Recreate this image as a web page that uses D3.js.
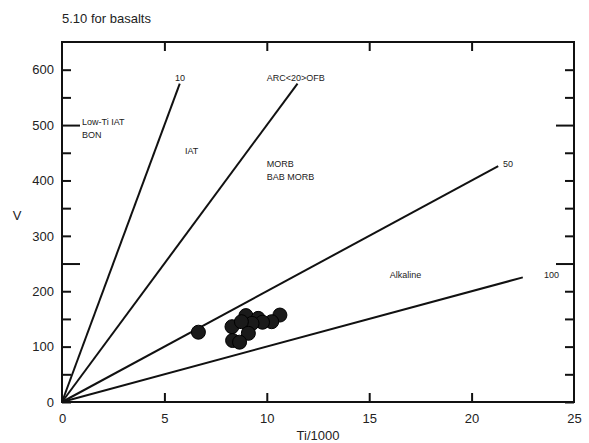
<!DOCTYPE html>
<html>
<head>
<meta charset="utf-8">
<script src="https://cdn.jsdelivr.net/npm/d3@7"></script>
<style>
    body { margin: 0; background: #fff; }
    text { font-family: "Liberation Sans", Arial, sans-serif; fill: #222; }
</style>
</head>
<body>
<svg id="chart" width="589" height="443"></svg>
<script>
/*global d3*/
/*jslint vars: true, indent: 4 */

//sample points
var tiValues = [6.66, 8.30, 8.98, 9.58, 10.64, 10.24, 9.79, 9.28, 8.76, 9.10, 8.33, 8.67],
    vValues = [126, 136, 156, 151, 157, 145, 144, 142, 145, 124, 111, 108];

//Ti/V ratio lines from the origin (V = 1000 * Ti/1000 / ratio)
var ratios = [10, 20, 50, 100],
    ratioEndTi = [5.75, 11.5, 21.3, 22.5];

//labels, anchored in data units
var labelTexts = ["10", "ARC<20>OFB", "50", "100", "Low-Ti IAT", "BON", "IAT", "MORB", "BAB MORB", "Alkaline"],
    labelTi = [5.52, 10.0, 21.53, 23.53, 0.98, 0.98, 6.0, 10.0, 10.0, 16.0],
    labelV = [580, 580, 425, 224, 501, 477, 448, 425, 400, 224];

var xTicks = [0, 5, 10, 15, 20, 25],
    yTicks = d3.range(0, 601, 50),
    longYTicks = [250, 500];

var svg = d3.select("#chart"),
    plotLeft = 62,
    plotRight = 574,
    plotTop = 42,
    plotBottom = 402;

var x = d3.scaleLinear().domain([0, 25]).range([plotLeft, plotRight]),
    y = d3.scaleLinear().domain([0, 650]).range([plotBottom, plotTop]);

svg.append("text")
    .attr("x", 62)
    .attr("y", 23)
    .attr("font-size", 13)
    .text("5.10 for basalts");

//axes, ticks pointing inside the frame
var gLeft = svg.append("g")
    .attr("transform", "translate(" + plotLeft + ",0)")
    .call(d3.axisLeft(y).tickValues(yTicks).tickSize(-9).tickPadding(8)
        .tickFormat(function (d) { return d % 100 === 0 ? d : ""; }));
var gRight = svg.append("g")
    .attr("transform", "translate(" + plotRight + ",0)")
    .call(d3.axisRight(y).tickValues(yTicks).tickSize(-9).tickFormat(""));
var gTop = svg.append("g")
    .attr("transform", "translate(0," + plotTop + ")")
    .call(d3.axisTop(x).tickValues([5, 10, 15, 20]).tickSize(-9).tickFormat(""));
var gBottom = svg.append("g")
    .attr("transform", "translate(0," + plotBottom + ")")
    .call(d3.axisBottom(x).tickValues(xTicks).tickSize(-9).tickPadding(12));

[gLeft, gRight, gTop, gBottom].forEach(function (g) {
    g.select(".domain").remove();
    g.selectAll(".tick line").attr("stroke", "#111").attr("stroke-width", 2);
    g.selectAll(".tick text").attr("font-size", 13).attr("fill", "#222")
        .attr("font-family", "Liberation Sans, Arial, sans-serif");
});
gBottom.selectAll(".tick").filter(function (d) { return d === 0 || d === 25; }).select("line").remove();
//250 and 500 get the long ticks
gLeft.selectAll(".tick").filter(function (d) { return longYTicks.indexOf(d) >= 0; })
    .select("line").attr("x2", 18);
gRight.selectAll(".tick").filter(function (d) { return longYTicks.indexOf(d) >= 0; })
    .select("line").attr("x2", -18);

svg.append("rect")
    .attr("x", plotLeft)
    .attr("y", plotTop)
    .attr("width", plotRight - plotLeft)
    .attr("height", plotBottom - plotTop)
    .attr("fill", "none")
    .attr("stroke", "#111")
    .attr("stroke-width", 2);

svg.append("text")
    .attr("x", (plotLeft + plotRight) / 2)
    .attr("y", 440)
    .attr("text-anchor", "middle")
    .attr("font-size", 13)
    .text("Ti/1000");
svg.append("text")
    .attr("x", 17)
    .attr("y", 220)
    .attr("text-anchor", "middle")
    .attr("font-size", 13)
    .text("V");

//ratio lines
svg.selectAll("line.ratio")
    .data(ratios)
    .enter().append("line")
    .attr("class", "ratio")
    .attr("x1", x(0))
    .attr("y1", y(0))
    .attr("x2", function (d, i) { return x(ratioEndTi[i]); })
    .attr("y2", function (d, i) { return y(ratioEndTi[i] * 1000 / d); })
    .attr("stroke", "#111")
    .attr("stroke-width", 2);

svg.selectAll("text.field")
    .data(labelTexts)
    .enter().append("text")
    .attr("class", "field")
    .attr("x", function (d, i) { return x(labelTi[i]); })
    .attr("y", function (d, i) { return y(labelV[i]); })
    .attr("font-size", 9)
    .text(function (d) { return d; });

svg.selectAll("circle")
    .data(tiValues)
    .enter().append("circle")
    .attr("cx", function (d) { return x(d); })
    .attr("cy", function (d, i) { return y(vValues[i]); })
    .attr("r", 7)
    .attr("fill", "#1a1a1a")
    .attr("stroke", "#000")
    .attr("stroke-width", 1);
</script>
</body>
</html>
